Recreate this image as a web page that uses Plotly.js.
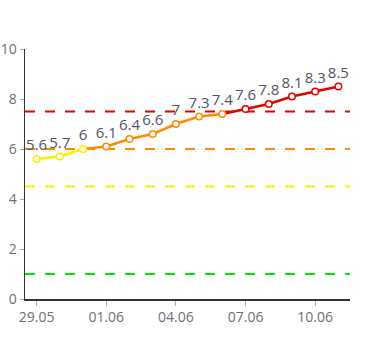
<!DOCTYPE html>
<html>
<head>
<meta charset="utf-8">
<script src="https://cdn.plot.ly/plotly-3.0.1.min.js"></script>
<style>html,body{margin:0;padding:0;background:#fff;}#chart{width:375px;height:350px;}</style>
</head>
<body>
<div id="chart"></div>
<script>
const dates = ['29.05','30.05','31.05','01.06','02.06','03.06','04.06','05.06','06.06','07.06','08.06','09.06','10.06','11.06'];
const values = [5.6, 5.7, 6, 6.1, 6.4, 6.6, 7, 7.3, 7.4, 7.6, 7.8, 8.1, 8.3, 8.5];
const thresholds = [1, 4.5, 6, 7.5];
const thresholdColors = ['#00e600', '#fff000', '#ff8c00', '#e60000'];
const tickDates = ['29.05','01.06','04.06','07.06','10.06'];

function colorFor(v) {
  if (v >= thresholds[3]) return thresholdColors[3];
  if (v > thresholds[2]) return thresholdColors[2];
  return thresholdColors[1];
}

const idx = dates.map((d, i) => i);
const traces = [];
let segStart = 0;
for (let i = 0; i < values.length - 1; i++) {
  const c = colorFor((values[i] + values[i + 1]) / 2);
  const nextC = i + 1 < values.length - 1 ? colorFor((values[i + 1] + values[i + 2]) / 2) : null;
  if (nextC !== c) {
    traces.push({
      x: idx.slice(segStart, i + 2), y: values.slice(segStart, i + 2),
      mode: 'lines', line: {color: c, width: 2.5}, hoverinfo: 'skip', showlegend: false
    });
    segStart = i + 1;
  }
}
traces.push({
  x: idx, y: values, mode: 'markers+text',
  text: values.map(v => String(v)), textposition: 'top center',
  textfont: {family: 'Open Sans, sans-serif', size: 15, color: '#4f5463'},
  marker: {size: 6.5, color: '#fff', line: {color: values.map(colorFor), width: 1.5}},
  cliponaxis: false, showlegend: false
});

const shapes = thresholds.map((t, i) => ({
  type: 'line', xref: 'paper', x0: 0, x1: 1, yref: 'y', y0: t, y1: t,
  line: {color: thresholdColors[i], width: 2, dash: '10px,10px'}, layer: 'below'
}));

const layout = {
  width: 375, height: 350,
  margin: {l: 25, r: 25, t: 49, b: 51},
  paper_bgcolor: '#fff', plot_bgcolor: '#fff',
  showlegend: false,
  font: {family: 'Open Sans, sans-serif', color: '#6e7079', size: 14},
  xaxis: {
    range: [-0.5, dates.length - 0.5],
    tickmode: 'array',
    tickvals: tickDates.map(d => dates.indexOf(d)),
    ticktext: tickDates,
    showgrid: false, zeroline: false,
    showline: true, linecolor: '#333', linewidth: 1.5,
    ticks: 'outside', ticklen: 5, tickcolor: '#aaa',
    tickfont: {size: 14, color: '#6e7079'}
  },
  yaxis: {
    range: [0, 10], dtick: 2,
    showgrid: false, zeroline: false,
    showline: true, linecolor: '#333', linewidth: 1.5,
    ticks: 'outside', ticklen: 4, tickcolor: '#aaa',
    tickfont: {size: 14, color: '#6e7079'}
  },
  shapes: shapes
};

Plotly.newPlot('chart', traces, layout, {displayModeBar: false, staticPlot: true});
</script>
</body>
</html>
